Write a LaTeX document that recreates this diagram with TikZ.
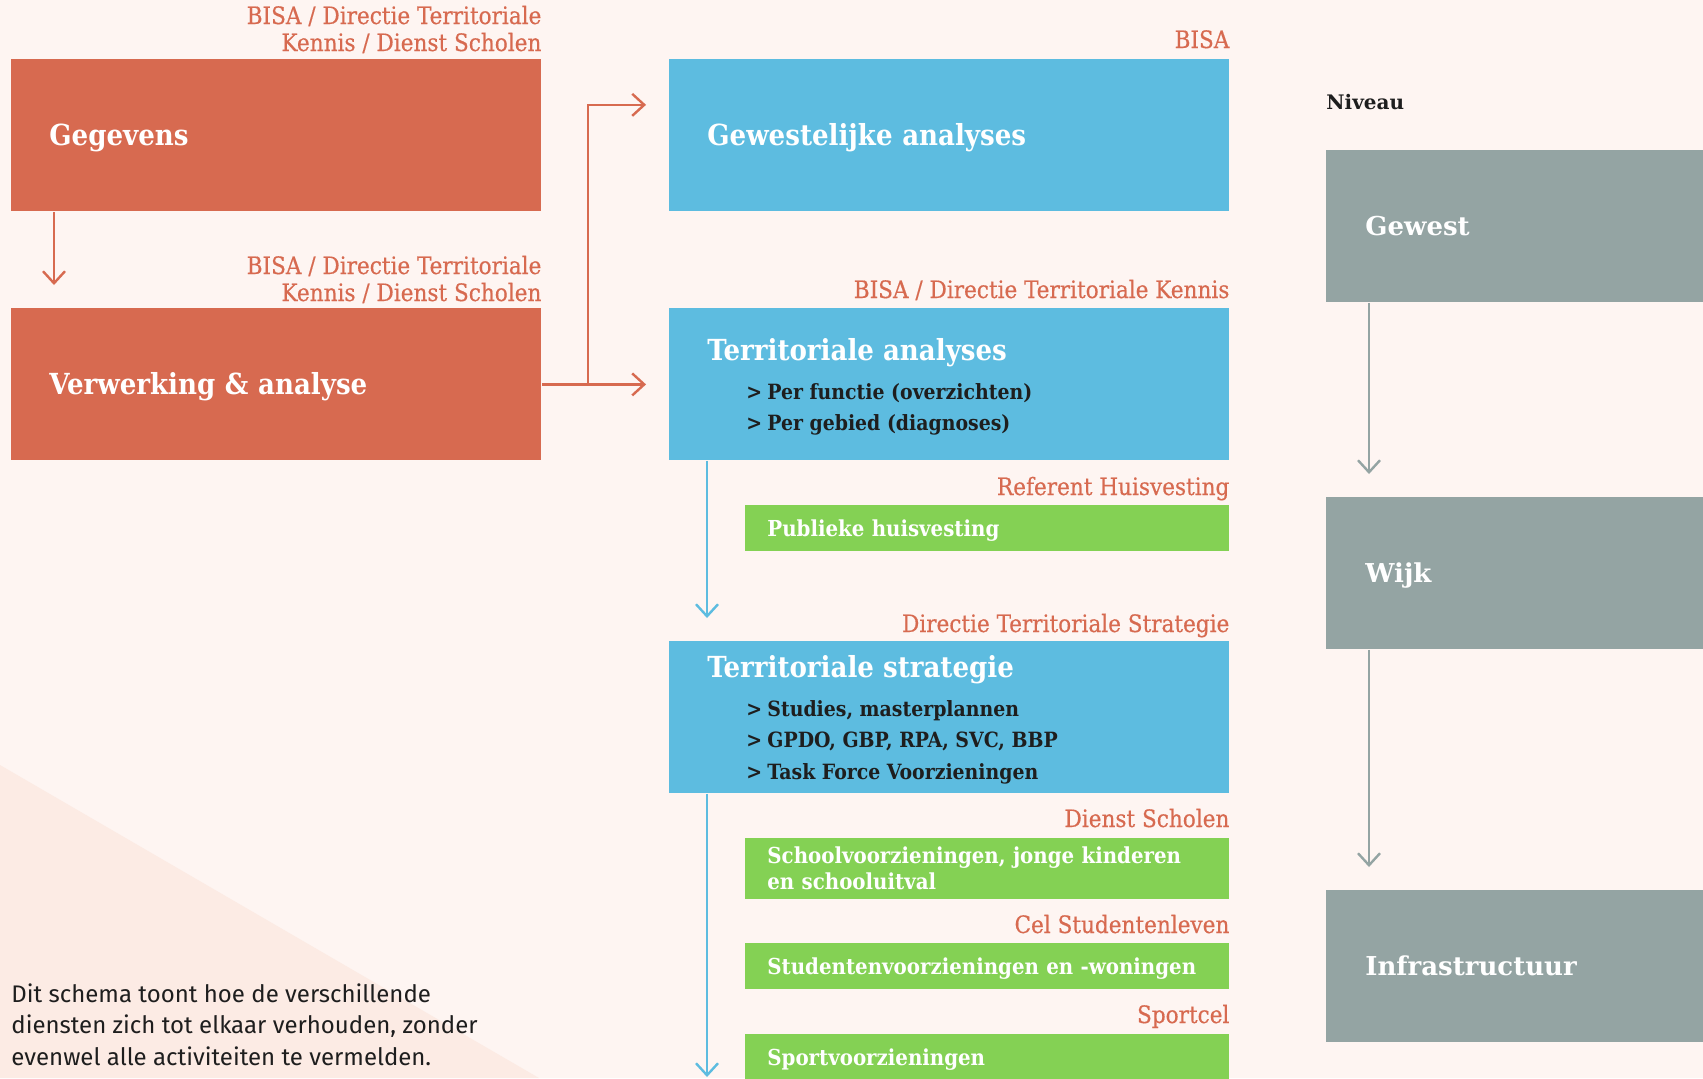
\documentclass[tikz,border=0pt]{standalone}
\usepackage{fontspec}
\setmainfont{DejaVu Serif Condensed}
\newfontfamily\widebold{DejaVu Serif}
\newfontfamily\plainsans{Fira Sans}
\newfontfamily\ownerfont[FakeBold=0.4]{DejaVu Serif Condensed}
\usetikzlibrary{arrows.meta}
\usetikzlibrary{calc}
\usetikzlibrary{positioning}
\definecolor{bgpink}{HTML}{FEF5F2}
\definecolor{bgtri}{HTML}{FCEBE4}
\definecolor{brick}{HTML}{D76A50}
\definecolor{sky}{HTML}{5DBCE0}
\definecolor{leaf}{HTML}{84D154}
\definecolor{slate}{HTML}{94A4A3}
\definecolor{ink}{HTML}{1E1E1E}
\tikzset{
	>={Straight Barb[length=6pt,width=11pt]},
	block/.style={
		rectangle,
		anchor=north west,
		inner xsep=19pt,
		inner ysep=0pt,
		minimum height=76pt,
		text height=10.5pt,
		text depth=0pt,
		align=left,
		text=white,
		font=\fontsize{14.5}{17}\selectfont\bfseries},
	redblock/.style={block, fill=brick, text width=227pt},
	blueblock/.style={block, fill=sky, text width=242pt},
	greyblock/.style={
		block,
		fill=slate,
		inner xsep=19.5pt,
		text width=151pt,
		text height=9.5pt,
		font=\widebold\fontsize{13}{16}\selectfont\bfseries},
	leafblock/.style={
		rectangle,
		anchor=north west,
		fill=leaf,
		inner xsep=11pt,
		inner ysep=0pt,
		minimum height=23pt,
		text height=8pt,
		text depth=0pt,
		text width=220pt,
		align=left,
		text=white,
		font=\fontsize{11}{13}\selectfont\bfseries},
	blocktitle/.style={anchor=base west, inner sep=0pt, text=white,
		font=\fontsize{14.5}{17}\selectfont\bfseries},
	item/.style={anchor=base west, inner sep=0pt, text=ink,
		font=\fontsize{10.5}{15.5}\selectfont\bfseries},
	owner/.style={anchor=base east, inner sep=0pt, align=right, text=brick,
		font=\ownerfont\fontsize{12}{13.5}\selectfont},
	redline/.style={draw=brick, line width=1.2pt, ->},
	blueline/.style={draw=sky, line width=1.2pt, ->},
	greyline/.style={draw=slate, line width=1.2pt, ->},
}
\newcommand{\pijl}{\makebox[10.5pt][l]{>}}

\begin{document}
\begin{tikzpicture}[x=0.5pt,y=-0.5pt]

	% achtergrond
	\fill[bgpink] (0,0) rectangle (1703,1078);
	\useasboundingbox (0,0) rectangle (1703,1078);
	\fill[bgtri] (0,765) -- (539,1078) -- (0,1078) -- cycle;

	% linker kolom
	\node[redblock] (geg) at (11,59) {Gegevens};
	\node[redblock] (verw) at (11,308) {Verwerking \& analyse};
	\node[owner] (gegO) at ([yshift=4pt]geg.north east) {BISA / Directie Territoriale\\Kennis / Dienst Scholen};
	\node[owner] (verwO) at ([yshift=3.5pt]verw.north east) {BISA / Directie Territoriale\\Kennis / Dienst Scholen};

	% middelste kolom
	\node[blueblock] (gew) at (669,59) {Gewestelijke analyses};
	\node[blueblock] (terr) at (669,308) {};
	\node[leafblock] (pub) at (745,505) {Publieke huisvesting};
	\node[blueblock] (strat) at (669,641) {};
	\node[leafblock, minimum height=30.5pt, text height=8pt, text depth=13pt] (school) at (745,838)
		{Schoolvoorzieningen, jonge kinderen\\en schooluitval};
	\node[leafblock] (stud) at (745,943) {Studentenvoorzieningen en -woningen};
	\node[leafblock] (sport) at (745,1034) {Sportvoorzieningen};

	\node[blocktitle] (terrT) at ([xshift=19pt,yshift=-26pt]terr.north west) {Territoriale analyses};
	\node[item] (terrA) at ([xshift=38.5pt,yshift=-45.5pt]terr.north west) {\pijl Per functie (overzichten)};
	\node[item] (terrB) at ([xshift=38.5pt,yshift=-61pt]terr.north west) {\pijl Per gebied (diagnoses)};

	\node[blocktitle] (stratT) at ([xshift=19pt,yshift=-18pt]strat.north west) {Territoriale strategie};
	\node[item] (stratA) at ([xshift=38.5pt,yshift=-37.5pt]strat.north west) {\pijl Studies, masterplannen};
	\node[item] (stratB) at ([xshift=38.5pt,yshift=-53pt]strat.north west) {\pijl GPDO, GBP, RPA, SVC, BBP};
	\node[item] (stratC) at ([xshift=38.5pt,yshift=-69pt]strat.north west) {\pijl Task Force Voorzieningen};

	\node[owner] (gewO) at ([yshift=5.5pt]gew.north east) {BISA};
	\node[owner] (terrO) at ([yshift=5pt]terr.north east) {BISA / Directie Territoriale Kennis};
	\node[owner] (pubO) at ([yshift=5pt]pub.north east) {Referent Huisvesting};
	\node[owner] (stratO) at ([yshift=4.5pt]strat.north east) {Directie Territoriale Strategie};
	\node[owner] (schoolO) at ([yshift=5.5pt]school.north east) {Dienst Scholen};
	\node[owner] (studO) at ([yshift=5pt]stud.north east) {Cel Studentenleven};
	\node[owner] (sportO) at ([yshift=5.5pt]sport.north east) {Sportcel};

	% rechter kolom
	\node[greyblock] (gewest) at (1326,150) {Gewest};
	\node[greyblock] (wijk) at (1326,497) {Wijk};
	\node[greyblock] (infra) at (1326,890) {Infrastructuur};
	\node[anchor=base west, inner sep=0pt, text=ink, font=\widebold\fontsize{10}{12}\selectfont\bfseries]
		(niveau) at ([yshift=20.5pt]gewest.north west) {Niveau};

	% toelichting
	\node[anchor=base west, inner sep=0pt, align=left, text=ink, font=\plainsans\fontsize{12}{15.75}\selectfont]
		(note) at (11,1065) {Dit schema toont hoe de verschillende\\diensten zich tot elkaar verhouden, zonder\\evenwel alle activiteiten te vermelden.};

	% verbindingen
	\coordinate (split) at ([xshift=23pt]verw.east);
	\coordinate (einde) at (707,1077);
	\draw[redline, shorten >=11.5pt] ([xshift=21.5pt]geg.south west) -- ([xshift=21.5pt]verw.north west);
	\draw[redline, shorten >=11.5pt] (verw.east) -- (terr.west);
	\draw[redline, shorten >=11.5pt] (split) |- ($(gew.north west)!0.3!(gew.south west)$);
	\draw[blueline, shorten >=11.5pt] ([xshift=19pt]terr.south west) -- ([xshift=19pt]strat.north west);
	\draw[blueline] ([xshift=19pt]strat.south west) -- (einde);
	\draw[greyline, shorten >=11.5pt] ([xshift=21.5pt]gewest.south west) -- ([xshift=21.5pt]wijk.north west);
	\draw[greyline, shorten >=11.5pt] ([xshift=21.5pt]wijk.south west) -- ([xshift=21.5pt]infra.north west);

\end{tikzpicture}
\end{document}
